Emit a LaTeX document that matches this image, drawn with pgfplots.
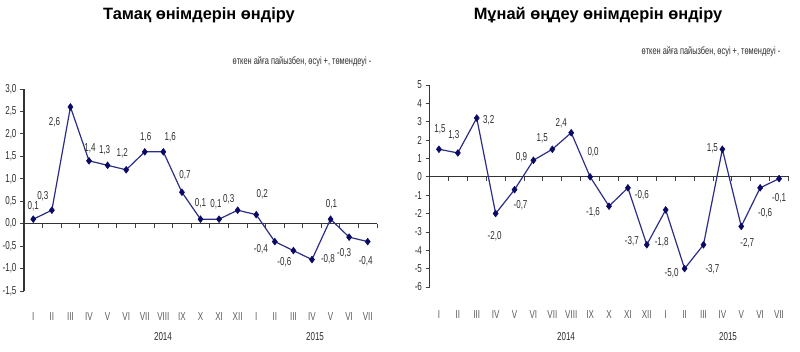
\documentclass[border=0pt]{standalone}
\usepackage{pgfplots}
\pgfplotsset{compat=1.18}
\usepackage{pgfplotstable}
\usepackage{fontspec}
\setmainfont{Liberation Sans}
\newfontfamily\narrow[FakeStretch=0.7]{Liberation Sans}
\newfontfamily\subfont[FakeStretch=0.7]{Liberation Sans}
\definecolor{linec}{RGB}{45,45,135}
\definecolor{markc}{RGB}{10,10,100}
\definecolor{txt}{RGB}{45,45,45}
\definecolor{cat}{RGB}{90,90,90}

\pgfplotstableread{
x y lab dx dy
0 0.1 0,1 0 13
1 0.3 0,3 -9 14
2 2.6 2,6 -16 -15
3 1.4 1,4 1 13
4 1.3 1,3 -3 15
5 1.2 1,2 -4 17
6 1.6 1,6 1 15
7 1.6 1,6 7 15
8 0.7 0,7 3 17
9 0.1 0,1 0 16
10 0.1 0,1 -3 15
11 0.3 0,3 -9 11
12 0.2 0,2 6 20
13 -0.4 -0,4 -14 -8
14 -0.6 -0,6 -9 -12
15 -0.8 -0,8 16 0
16 0.1 0,1 1 15
17 -0.3 -0,3 -5 -16
18 -0.4 -0,4 -2 -20
}\fooddata

\pgfplotstableread{
x y lab dx dy
0 1.5 1,5 1 20
1 1.3 1,3 -4 18
2 3.2 3,2 12 -2
3 -2.0 -2,0 -1 -23
4 -0.7 -0,7 6 -16
5 0.9 0,9 -12 3
6 1.5 1,5 -10 11
7 2.4 2,4 -10 10
8 0.0 0,0 3 25
9 -1.6 -1,6 -16 -6
10 -0.6 -0,6 14 -7
11 -3.7 -3,7 -15 4
12 -1.8 -1,8 -4 -32
13 -5.0 -5,0 -13 -5
14 -3.7 -3,7 9 -24
15 1.5 1,5 -10 1
16 -2.7 -2,7 6 -17
17 -0.6 -0,6 5 -25
18 -0.1 -0,1 0 -20
}\oildata

\pgfplotsset{
  base/.style={
    scale only axis, clip=false,
    axis line style={draw=none},
    xmin=-0.5, xmax=18.5,
    xtick={0,...,18},
    xticklabels={I,II,III,IV,V,VI,VII,VIII,IX,X,XI,XII,I,II,III,IV,V,VI,VII},
    xtick pos=bottom, ytick pos=left,
    tick align=outside,
    major tick length=4pt,
    xtick style={draw=none},
    ytick style={black!75, line width=0.8pt},
    ticklabel style={font=\narrow\fontsize{11.5}{11.5}\selectfont, text=txt},
    xticklabel style={text=cat},
    /pgf/number format/assume math mode=true,
  },
  dataplot/.style={
    color=linec, line width=1.2pt, mark=diamond*, mark size=3.4pt,
    mark options={fill=markc, draw=markc, line width=0.5pt},
    nodes near coords, point meta=explicit symbolic,
    visualization depends on={\thisrow{dx}\as\dx},
    visualization depends on={\thisrow{dy}\as\dy},
    every node near coord/.append style={anchor=center, xshift=\dx pt, yshift=\dy pt,
      font=\narrow\fontsize{11.5}{11.5}\selectfont, text=txt, inner sep=0pt},
  }
}
\newcommand\axisframe[2]{%
  \draw[black!80, line width=1.4pt] (axis cs:-0.5,#1) -- (axis cs:-0.5,#2);
  \draw[black!80, line width=1.2pt] (axis cs:-0.5,0) -- (axis cs:18.5,0);
  \pgfplotsinvokeforeach{-0.5,0.5,1.5,2.5,3.5,4.5,5.5,6.5,7.5,8.5,9.5,10.5,11.5,12.5,13.5,14.5,15.5,16.5,17.5,18.5}{
    \draw[black!75, line width=0.8pt] (axis cs:##1,0) -- ++(0pt,-4pt);}
}

\begin{document}
\begin{tikzpicture}
\useasboundingbox (0pt,0pt) rectangle (800pt,352pt);

\begin{axis}[base, at={(24pt,61pt)}, anchor=south west, width=353pt, height=202pt,
  ymin=-1.5, ymax=3, ytick={-1.5,-1,...,3},
  yticklabel style={/pgf/number format/.cd, use comma, fixed, fixed zerofill, precision=1},
  xticklabel style={yshift=-14pt}]
\axisframe{-1.5}{3}
\addplot[dataplot] table[x=x, y=y, meta=lab] {\fooddata};
\end{axis}

\begin{axis}[base, at={(429.5pt,65pt)}, anchor=south west, width=359pt, height=202pt,
  ymin=-6, ymax=5, ytick={-6,...,5},
  xticklabel style={yshift=-16pt}]
\axisframe{-6}{5}
\addplot[dataplot] table[x=x, y=y, meta=lab] {\oildata};
\end{axis}

\node[font=\bfseries\fontsize{16.4}{16.4}\selectfont] at (199pt,337pt) {Тамақ өнімдерін өндіру};
\node[font=\bfseries\fontsize{16.4}{16.4}\selectfont] at (598pt,337pt) {Мұнай өңдеу өнімдерін өндіру};
\node[font=\subfont\fontsize{10.6}{10.6}\selectfont, text=txt] at (302pt,290pt) {өткен айға пайызбен, өсуі +, төмендеуі -};
\node[font=\subfont\fontsize{10.6}{10.6}\selectfont, text=txt] at (711pt,300pt) {өткен айға пайызбен, өсуі +, төмендеуі -};

\node[font=\narrow\fontsize{11.5}{11.5}\selectfont, text=txt] at (163pt,15pt) {2014};
\node[font=\narrow\fontsize{11.5}{11.5}\selectfont, text=txt] at (315pt,15pt) {2015};
\node[font=\narrow\fontsize{11.5}{11.5}\selectfont, text=txt] at (566pt,15pt) {2014};
\node[font=\narrow\fontsize{11.5}{11.5}\selectfont, text=txt] at (728pt,15pt) {2015};
\end{tikzpicture}
\end{document}
